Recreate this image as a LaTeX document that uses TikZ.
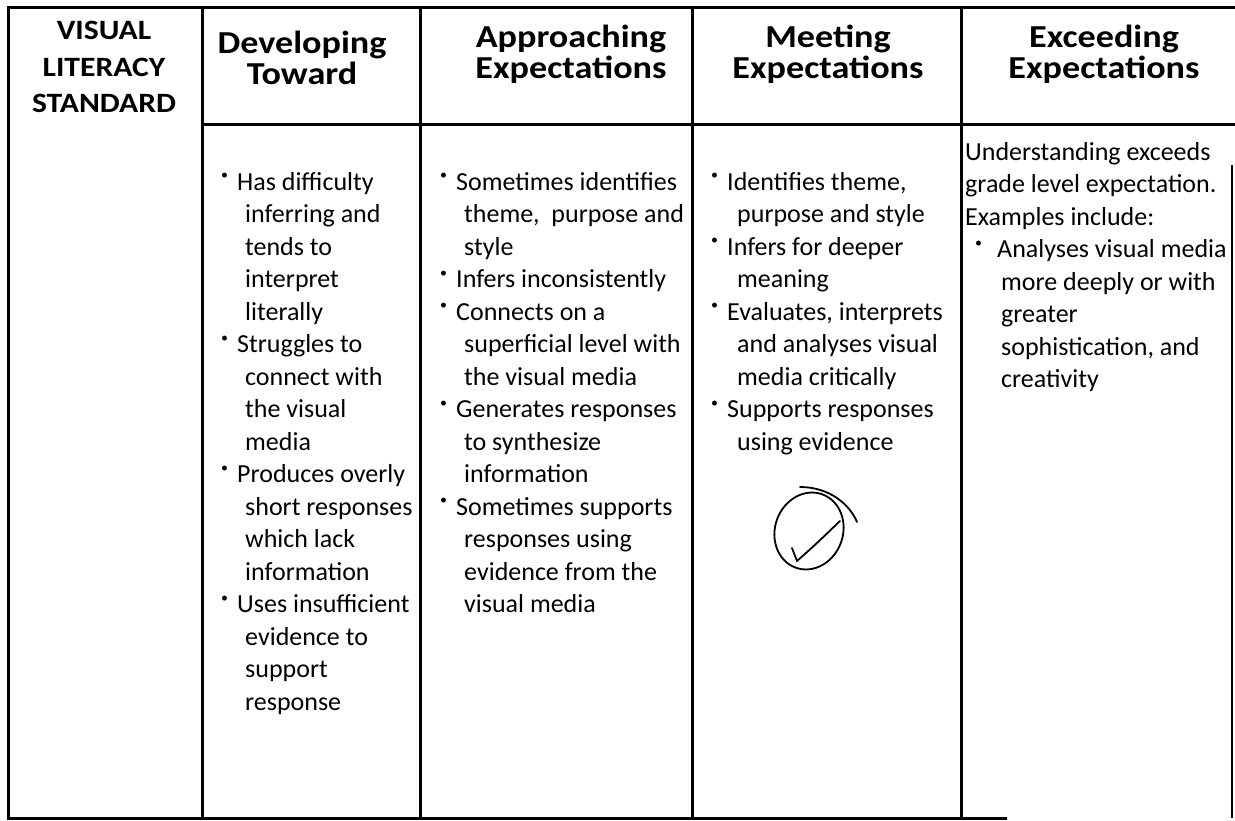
\documentclass[tikz,border=0pt]{standalone}
\usepackage{fontspec}
\setmainfont{Carlito}
\newfontfamily\hdfont[FakeStretch=1.13]{Carlito}
\newcommand\rbul[1]{\makebox[#1][l]{\raisebox{0.40em}{\fontsize{14}{14}\selectfont\textbullet}}}
\newcommand\rind[1]{\hspace*{#1}}
\begin{document}
\begin{tikzpicture}[x=1pt,y=-1pt,
  rule/.style={line width=3pt,line cap=rect},
  thinrule/.style={line width=2pt},
  head/.style={font=\hdfont\bfseries\fontsize{32}{31}\selectfont,align=center,anchor=base,inner sep=0pt},
  stdhead/.style={font=\hdfont\bfseries\fontsize{28}{36.5}\selectfont,align=center,anchor=base,inner sep=0pt},
  body/.style={font=\fontsize{26}{32.5}\selectfont,align=left,anchor=base west,inner sep=0pt},
  pen/.style={line width=1.8pt,line cap=round,line join=round}]
\useasboundingbox (0,0) rectangle (1235,821);
\fill[white] (0,0) rectangle (1235,821);
% table rules
\draw[rule] (8,8) -- (1235,8);
\draw[rule] (8,8) -- (8,818) -- (1005,818);
\draw[rule] (202,8) -- (202,818);
\draw[rule] (420,8) -- (420,818);
\draw[rule] (692,8) -- (692,818);
\draw[rule] (961,8) -- (961,818);
\draw[rule] (202,125) -- (1235,125);
\draw[thinrule] (1232,165) -- (1232,818);
% headers (anchor = baseline of last line)
\node[stdhead] (std) at (104,113) {VISUAL\\LITERACY\\STANDARD};
\node[head] (h1) at (302,85) {Developing\\Toward};
\node[head] (h2) at (571,79) {Approaching\\Expectations};
\node[head] (h3) at (828,79) {Meeting\\Expectations};
\node[head] (h4) at (1104,79) {Exceeding\\Expectations};
% bodies (anchor = baseline of last line)
\node[body] (c1) at (221,710) {\rbul{16pt}Has difficulty\\
\rind{24pt}inferring and\\
\rind{24pt}tends to\\
\rind{24pt}interpret\\
\rind{24pt}literally\\
\rbul{16pt}Struggles to\\
\rind{24pt}connect with\\
\rind{24pt}the visual\\
\rind{24pt}media\\
\rbul{16pt}Produces overly\\
\rind{24pt}short responses\\
\rind{24pt}which lack\\
\rind{24pt}information\\
\rbul{16pt}Uses insufficient\\
\rind{24pt}evidence to\\
\rind{24pt}support\\
\rind{24pt}response};
\node[body] (c2) at (440,612.5) {\rbul{16pt}Sometimes identifies\\
\rind{24pt}theme,\ \ purpose and\\
\rind{24pt}style\\
\rbul{16pt}Infers inconsistently\\
\rbul{16pt}Connects on a\\
\rind{24pt}superficial level with\\
\rind{24pt}the visual media\\
\rbul{16pt}Generates responses\\
\rind{24pt}to synthesize\\
\rind{24pt}information\\
\rbul{16pt}Sometimes supports\\
\rind{24pt}responses using\\
\rind{24pt}evidence from the\\
\rind{24pt}visual media};
\node[body] (c3) at (711,450) {\rbul{16pt}Identifies theme,\\
\rind{26pt}purpose and style\\
\rbul{16pt}Infers for deeper\\
\rind{26pt}meaning\\
\rbul{16pt}Evaluates, interprets\\
\rind{26pt}and analyses visual\\
\rind{26pt}media critically\\
\rbul{16pt}Supports responses\\
\rind{26pt}using evidence};
\node[body] (c4) at (965,387.5) {Understanding exceeds\\
grade level expectation.\\
Examples include:\\
\rind{10pt}\rbul{22pt}Analyses visual media\\
\rind{36pt}more deeply or with\\
\rind{36pt}greater\\
\rind{36pt}sophistication, and\\
\rind{36pt}creativity};
% hand-drawn check mark
\draw[pen,rotate around={-20:(809,531)}] (809,531) ellipse [x radius=34, y radius=39];
\draw[pen] (800,487) .. controls (830,487) and (850,505) .. (857,522);
\draw[pen] (792,548) -- (797,561) .. controls (815,545) .. (840,521);
\end{tikzpicture}
\end{document}
